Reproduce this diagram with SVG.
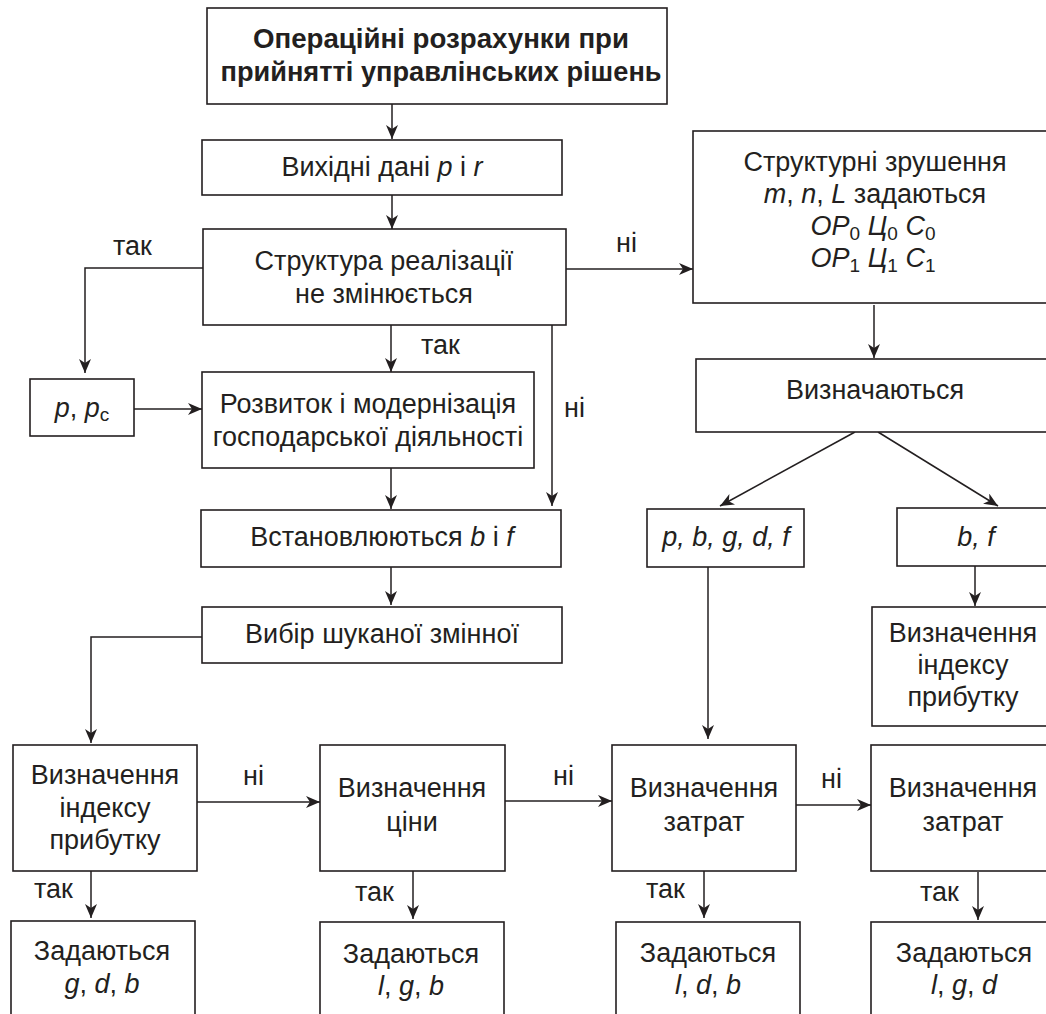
<svg xmlns="http://www.w3.org/2000/svg" width="1046" height="1014" viewBox="0 0 1046 1014">
<defs>
<style>
.box{fill:#fff;stroke:#231f20;stroke-width:1.6}
.ln{fill:none;stroke:#231f20;stroke-width:1.5}
.t{font-family:"Liberation Sans",Arial,sans-serif;font-size:27px;fill:#231f20;text-anchor:middle}
.b{font-weight:bold}
.l{font-family:"Liberation Sans",Arial,sans-serif;font-size:27px;fill:#231f20}
.i{font-style:italic}
.s{font-size:19px}
</style>
<marker id="ar" markerUnits="userSpaceOnUse" markerWidth="14" markerHeight="12" refX="14" refY="6" orient="auto">
<path d="M0,0 L14,6 L0,12 L4,6 z" fill="#231f20"/>
</marker>
</defs>
<rect width="1046" height="1014" fill="#fff"/>

<g id="connectors">
<path class="ln" d="M392,104 V139" marker-end="url(#ar)"/>
<path class="ln" d="M392,195 V229" marker-end="url(#ar)"/>
<path class="ln" d="M203,268 H85 V373" marker-end="url(#ar)"/>
<path class="ln" d="M566,269 H693" marker-end="url(#ar)"/>
<path class="ln" d="M391,325 V372" marker-end="url(#ar)"/>
<path class="ln" d="M552,325 V506" marker-end="url(#ar)"/>
<path class="ln" d="M134,409 H202" marker-end="url(#ar)"/>
<path class="ln" d="M391,468 V509" marker-end="url(#ar)"/>
<path class="ln" d="M391,567 V605" marker-end="url(#ar)"/>
<path class="ln" d="M202,637 H91 V743" marker-end="url(#ar)"/>
<path class="ln" d="M874,305 V358" marker-end="url(#ar)"/>
<path class="ln" d="M855,432 L720,506" marker-end="url(#ar)"/>
<path class="ln" d="M878,432 L998,506" marker-end="url(#ar)"/>
<path class="ln" d="M975,566 V606" marker-end="url(#ar)"/>
<path class="ln" d="M708,567 V739" marker-end="url(#ar)"/>
<path class="ln" d="M197,802 H320" marker-end="url(#ar)"/>
<path class="ln" d="M505,801 H612" marker-end="url(#ar)"/>
<path class="ln" d="M796,805 H871" marker-end="url(#ar)"/>
<path class="ln" d="M91,871 V918" marker-end="url(#ar)"/>
<path class="ln" d="M413,871 V919" marker-end="url(#ar)"/>
<path class="ln" d="M704,871 V918" marker-end="url(#ar)"/>
<path class="ln" d="M978,872 V920" marker-end="url(#ar)"/>
<text class="l" x="113" y="255">так</text>
<text class="l" x="616" y="252">ні</text>
<text class="l" x="421" y="354">так</text>
<text class="l" x="564" y="417">ні</text>
<text class="l" x="243" y="785">ні</text>
<text class="l" x="553" y="785">ні</text>
<text class="l" x="821" y="788">ні</text>
<text class="l" x="34" y="898">так</text>
<text class="l" x="355" y="901">так</text>
<text class="l" x="646" y="898">так</text>
<text class="l" x="920" y="901">так</text>
</g>

<g id="n-title">
<rect class="box" x="207" y="8" width="460" height="96"/>
<text class="t b" x="441" y="48" textLength="376" lengthAdjust="spacingAndGlyphs">Операційні розрахунки при</text>
<text class="t b" x="441" y="81" textLength="441" lengthAdjust="spacingAndGlyphs">прийнятті управлінських рішень</text>
</g>
<g id="n-input">
<rect class="box" x="202" y="140" width="360" height="55"/>
<text class="t" x="382" y="176">Вихідні дані <tspan class="i">p</tspan> і <tspan class="i">r</tspan></text>
</g>
<g id="n-structure">
<rect class="box" x="203" y="229" width="363" height="96"/>
<text class="t" x="384" y="270">Структура реалізації</text>
<text class="t" x="384" y="303">не змінюється</text>
</g>
<g id="n-shifts">
<rect class="box" x="693" y="131" width="370" height="172"/>
<text class="t" x="875" y="171">Структурні зрушення</text>
<text class="t" x="875" y="203"><tspan class="i">m</tspan>, <tspan class="i">n</tspan>, <tspan class="i">L</tspan> задаються</text>
<text class="t" x="873" y="235"><tspan class="i">OP</tspan><tspan class="s" dy="5">0</tspan><tspan dy="-5"> </tspan><tspan class="i">Ц</tspan><tspan class="s" dy="5">0</tspan><tspan dy="-5"> </tspan><tspan class="i">C</tspan><tspan class="s" dy="5">0</tspan></text>
<text class="t" x="873" y="267"><tspan class="i">OP</tspan><tspan class="s" dy="5">1</tspan><tspan dy="-5"> </tspan><tspan class="i">Ц</tspan><tspan class="s" dy="5">1</tspan><tspan dy="-5"> </tspan><tspan class="i">C</tspan><tspan class="s" dy="5">1</tspan></text>
</g>
<g id="n-pc">
<rect class="box" x="30" y="379" width="104" height="57"/>
<text class="t" x="82" y="417"><tspan class="i">p</tspan>, <tspan class="i">p</tspan><tspan class="s" dy="4">c</tspan></text>
</g>
<g id="n-develop">
<rect class="box" x="202" y="372" width="332" height="96"/>
<text class="t" x="368" y="413">Розвиток і модернізація</text>
<text class="t" x="368" y="446">господарської діяльності</text>
</g>
<g id="n-determine">
<rect class="box" x="696" y="359" width="370" height="73"/>
<text class="t" x="875" y="399">Визначаються</text>
</g>
<g id="n-set-bf">
<rect class="box" x="201" y="510" width="360" height="57"/>
<text class="t" x="382" y="546">Встановлюються <tspan class="i">b</tspan> і <tspan class="i">f</tspan></text>
</g>
<g id="n-pbgdf">
<rect class="box" x="647" y="509" width="157" height="58"/>
<text class="t i" x="726" y="546">p, b, g, d, f</text>
</g>
<g id="n-bf">
<rect class="box" x="897" y="508" width="170" height="58"/>
<text class="t i" x="976" y="546">b, f</text>
</g>
<g id="n-choose">
<rect class="box" x="202" y="607" width="360" height="56"/>
<text class="t" x="382" y="643">Вибір шуканої змінної</text>
</g>
<g id="n-index-right">
<rect class="box" x="872" y="607" width="190" height="119"/>
<text class="t" x="963" y="642">Визначення</text>
<text class="t" x="963" y="674">індексу</text>
<text class="t" x="963" y="706">прибутку</text>
</g>
<g id="n-index">
<rect class="box" x="13" y="745" width="184" height="126"/>
<text class="t" x="105" y="784">Визначення</text>
<text class="t" x="105" y="817">індексу</text>
<text class="t" x="105" y="849">прибутку</text>
</g>
<g id="n-price">
<rect class="box" x="320" y="745" width="185" height="126"/>
<text class="t" x="412" y="797">Визначення</text>
<text class="t" x="412" y="831">ціни</text>
</g>
<g id="n-cost1">
<rect class="box" x="612" y="745" width="184" height="126"/>
<text class="t" x="704" y="797">Визначення</text>
<text class="t" x="704" y="831">затрат</text>
</g>
<g id="n-cost2">
<rect class="box" x="871" y="745" width="190" height="126"/>
<text class="t" x="963" y="797">Визначення</text>
<text class="t" x="963" y="831">затрат</text>
</g>
<g id="n-set1">
<rect class="box" x="11" y="921" width="184" height="110"/>
<text class="t" x="102" y="960">Задаються</text>
<text class="t" x="102" y="993"><tspan class="i">g</tspan>, <tspan class="i">d</tspan>, <tspan class="i">b</tspan></text>
</g>
<g id="n-set2">
<rect class="box" x="320" y="922" width="184" height="110"/>
<text class="t" x="411" y="963">Задаються</text>
<text class="t" x="411" y="995"><tspan class="i">l</tspan>, <tspan class="i">g</tspan>, <tspan class="i">b</tspan></text>
</g>
<g id="n-set3">
<rect class="box" x="616" y="922" width="184" height="110"/>
<text class="t" x="708" y="962">Задаються</text>
<text class="t" x="708" y="994"><tspan class="i">l</tspan>, <tspan class="i">d</tspan>, <tspan class="i">b</tspan></text>
</g>
<g id="n-set4">
<rect class="box" x="871" y="922" width="190" height="110"/>
<text class="t" x="964" y="962">Задаються</text>
<text class="t" x="964" y="994"><tspan class="i">l</tspan>, <tspan class="i">g</tspan>, <tspan class="i">d</tspan></text>
</g>
</svg>
